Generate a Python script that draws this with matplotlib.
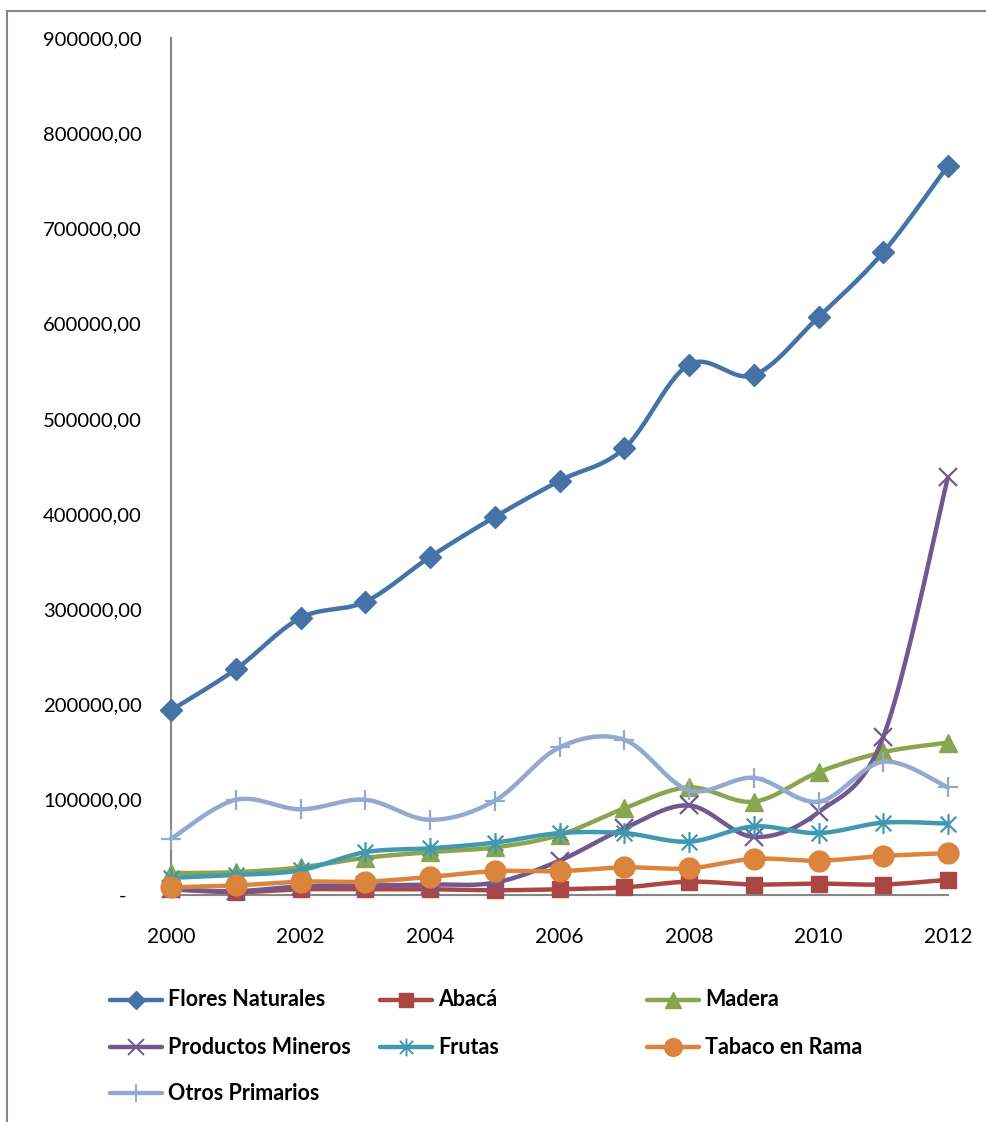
import numpy as np
import matplotlib
matplotlib.use("Agg")
import matplotlib.pyplot as plt
from matplotlib.lines import Line2D
from matplotlib.path import Path

plt.rcParams['font.family'] = ['Lato', 'DejaVu Sans']

# exportaciones primarias por año
years = [2000, 2001, 2002, 2003, 2004, 2005, 2006, 2007, 2008, 2009, 2010, 2011, 2012]
flores = [194000, 237000, 291000, 308000, 355000, 397000, 435000, 469000, 557000, 546000, 607000, 675000, 766000]
abaca = [6000, 3000, 6000, 6000, 6000, 5000, 6000, 8000, 14000, 11000, 12000, 11000, 16000]
madera = [23000, 24000, 29000, 39000, 45000, 50000, 63000, 91000, 113000, 98000, 129000, 150000, 160000]
mineros = [6000, 4000, 9000, 10000, 11000, 13000, 36000, 70000, 94000, 61000, 87000, 166000, 439000]
frutas = [18000, 21000, 26000, 45000, 49000, 55000, 65000, 65000, 56000, 72000, 65000, 76000, 75000]
tabaco = [8000, 10000, 14000, 14000, 19000, 25000, 25000, 29000, 28000, 38000, 36000, 41000, 44000]
otros = [59000, 100000, 90000, 100000, 79000, 99000, 155000, 163000, 110000, 123000, 98000, 140000, 113000]

# asterisco estilo Excel: vertical + dos diagonales
star_path = Path(
    [(0, -1), (0, 1), (-0.75, -0.75), (0.75, 0.75), (-0.75, 0.75), (0.75, -0.75)],
    [Path.MOVETO, Path.LINETO, Path.MOVETO, Path.LINETO, Path.MOVETO, Path.LINETO])

series = [
    ("Flores Naturales", flores, "#4572A7", "D", 11),
    ("Abacá", abaca, "#AA4643", "s", 12),
    ("Madera", madera, "#89A54E", "^", 13),
    ("Productos Mineros", mineros, "#71588F", "x", 13),
    ("Frutas", frutas, "#4198AF", star_path, 15),
    ("Tabaco en Rama", tabaco, "#DB843D", "o", 15),
    ("Otros Primarios", otros, "#93A9CF", "+", 15),
]


def smooth(x, y, n=30):
    """curva suavizada tipo Catmull-Rom (bezier) entre puntos"""
    p = np.column_stack([x, y]).astype(float)
    ext = np.vstack([p[0], p, p[-1]])
    t = np.linspace(0, 1, n)[:, None]
    out = []
    for i in range(len(p) - 1):
        p0, p1, p2, p3 = ext[i], ext[i + 1], ext[i + 2], ext[i + 3]
        c1 = p1 + (p2 - p0) / 6
        c2 = p2 - (p3 - p1) / 6
        seg = ((1 - t) ** 3) * p1 + 3 * ((1 - t) ** 2) * t * c1 + 3 * (1 - t) * t ** 2 * c2 + t ** 3 * p2
        out.append(seg if i == 0 else seg[1:])
    seg = np.vstack(out)
    return seg[:, 0], seg[:, 1]


fig = plt.figure(figsize=(9.86, 11.22), dpi=100)
ax = fig.add_axes([171 / 986, 1 - 895 / 1122, 777 / 986, 857 / 1122])

for i, (name, vals, color, marker, ms) in enumerate(series):
    sx, sy = smooth(years, vals)
    ax.plot(sx, sy, color=color, lw=3.2, zorder=2 + i * 2, clip_on=False, solid_capstyle='round')
    thin = marker in ("x", "+") or isinstance(marker, Path)
    ax.plot(years, vals, linestyle='none', marker=marker, ms=ms, color=color,
            mec=color, mew=1.6 if thin else 1, zorder=3 + i * 2, clip_on=False)

ax.set_xlim(2000, 2012)
ax.set_ylim(0, 900000)
ax.set_xticks(range(2000, 2013, 2))
ax.set_yticks(range(0, 900001, 100000))
ax.set_yticklabels(["-   " if v == 0 else f"{v:.2f}".replace(".", ",") for v in range(0, 900001, 100000)])
ax.tick_params(axis='y', length=0, pad=21, labelsize=14.6)
ax.tick_params(axis='x', length=0, pad=23, labelsize=15)
for side in ("top", "right"):
    ax.spines[side].set_visible(False)
for side in ("left", "bottom"):
    ax.spines[side].set_color("#868686")
    ax.spines[side].set_linewidth(1.5)

# leyenda en tres columnas de ancho fijo
col_x = [110, 380, 647]
row_y = [1000, 1047, 1093]
H = 1122
W = 986
for i, (name, vals, color, marker, ms) in enumerate(series):
    x0 = col_x[i % 3]
    y0 = row_y[i // 3]
    fy = 1 - y0 / H
    fig.add_artist(Line2D([x0 / W, (x0 + 52) / W], [fy, fy], color=color, lw=3.2,
                          transform=fig.transFigure, solid_capstyle='round'))
    thin = marker in ("x", "+") or isinstance(marker, Path)
    fig.add_artist(Line2D([(x0 + 26) / W], [fy], marker=marker, ms=ms * 0.85, color=color,
                          mec=color, mew=1.4 if thin else 1, linestyle='none',
                          transform=fig.transFigure))
    fig.text((x0 + 58) / W, fy, name, fontsize=15.5, fontweight='bold', va='center', ha='left')

# marco del gráfico
frame_c = "#878787"
fig.add_artist(Line2D([7 / W, 1], [1 - 11 / H, 1 - 11 / H], color=frame_c, lw=1.5, transform=fig.transFigure))
fig.add_artist(Line2D([7 / W, 7 / W], [0, 1 - 11 / H], color=frame_c, lw=1.5, transform=fig.transFigure))

fig.savefig("out.png", dpi=100)
